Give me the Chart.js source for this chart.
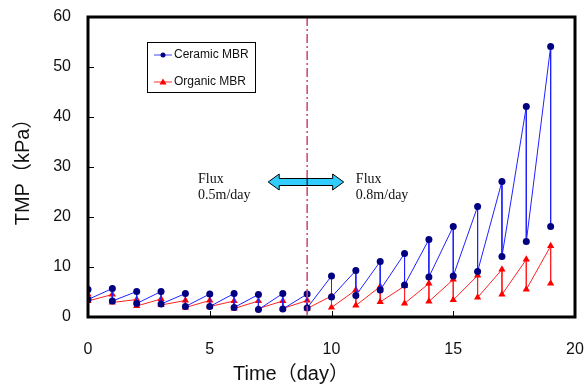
<!DOCTYPE html>
<html>
<head>
<meta charset="utf-8">
<script src="https://cdn.jsdelivr.net/npm/chart.js@4/dist/chart.umd.min.js"></script>
<style>
  html, body { margin: 0; padding: 0; background: #fff; }
  #wrap { width: 586px; height: 385px; }
</style>
</head>
<body>
<div id="wrap"><canvas id="grafico"></canvas></div>
<script>
// dados: valor antes (alto) e depois (baixo) da limpeza, por dia
const dias = [0, 1, 2, 3, 4, 5, 6, 7, 8, 9, 10, 11, 12, 13, 14, 15, 16, 17, 18, 19];
const ceramicAlto  = [5.5, 5.7, 5.1, 5.1, 4.7, 4.6, 4.7, 4.5, 4.7, 4.6, 8.2, 9.3, 11.1, 12.7, 15.5, 18.1, 22.1, 27.1, 42.1, 54.1];
const ceramicBaixo = [3.5, 3.2, 2.7, 2.6, 2.1, 2.1, 1.9, 1.5, 1.6, 1.8, 4.0, 4.3, 5.4, 6.4, 8.0, 8.2, 9.1, 12.1, 15.1, 18.1];
const organicAlto  = [4.5, 4.5, 3.5, 3.6, 3.3, 3.3, 3.2, 3.2, 3.2, 3.3, 4.2, 5.4, 6.1, 6.2, 6.7, 7.5, 8.3, 9.5, 11.5, 14.2];
const organicBaixo = [3.2, 2.9, 2.2, 2.4, 1.9, 2.1, 1.7, 1.7, 1.7, 1.7, 1.9, 2.3, 3.0, 2.7, 3.1, 3.4, 3.9, 4.5, 5.5, 6.7];
const xTicks = [0, 5, 10, 15, 20];
const yTicks = [0, 10, 20, 30, 40, 50, 60];
const diaMudanca = 9;

// serra: alto -> baixo no mesmo dia, depois sobe até o alto do dia seguinte
function serra(alto, baixo) {
    const pts = [];
    dias.forEach((d, i) => {
        pts.push({ x: d, y: alto[i] });
        pts.push({ x: d, y: baixo[i] });
    });
    return pts;
}

const fonteSans = 'Liberation Sans, Arial, "Noto Sans CJK JP", sans-serif';

// moldura, ticks internos, linha de mudança de fluxo, seta, legenda e título do eixo x
const extras = {
    id: 'extras',
    afterDraw(chart) {
        const { ctx, chartArea: a, scales: { x, y } } = chart;
        ctx.save();

        // linha traço-ponto em x = 9
        const xm = x.getPixelForValue(diaMudanca);
        ctx.strokeStyle = '#cc4470';
        ctx.lineWidth = 1.5;
        ctx.setLineDash([9, 3, 2, 3]);
        ctx.beginPath();
        ctx.moveTo(xm, a.top);
        ctx.lineTo(xm, a.bottom);
        ctx.stroke();
        ctx.setLineDash([]);

        // seta dupla
        const x1 = x.getPixelForValue(7.4), x2 = x.getPixelForValue(10.5);
        const yc = y.getPixelForValue(27);
        const hs = 3.5, hh = 8, hl = 11;
        ctx.beginPath();
        ctx.moveTo(x1, yc);
        ctx.lineTo(x1 + hl, yc - hh);
        ctx.lineTo(x1 + hl, yc - hs);
        ctx.lineTo(x2 - hl, yc - hs);
        ctx.lineTo(x2 - hl, yc - hh);
        ctx.lineTo(x2, yc);
        ctx.lineTo(x2 - hl, yc + hh);
        ctx.lineTo(x2 - hl, yc + hs);
        ctx.lineTo(x1 + hl, yc + hs);
        ctx.lineTo(x1 + hl, yc + hh);
        ctx.closePath();
        ctx.fillStyle = '#33ccff';
        ctx.fill();
        ctx.strokeStyle = '#000';
        ctx.lineWidth = 1;
        ctx.stroke();
        ctx.beginPath();
        ctx.moveTo(xm, yc - hs);
        ctx.lineTo(xm, yc + hs);
        ctx.stroke();

        // textos de fluxo
        ctx.fillStyle = '#111';
        ctx.font = '14px "Liberation Serif", "Times New Roman", serif';
        ctx.textAlign = 'left';
        ctx.textBaseline = 'middle';
        const tx1 = x.getPixelForValue(4.52), tx2 = x.getPixelForValue(11.0);
        const ty1 = y.getPixelForValue(27.6), ty2 = y.getPixelForValue(24.4);
        ctx.fillText('Flux', tx1, ty1);
        ctx.fillText('0.5m/day', tx1, ty2);
        ctx.fillText('Flux', tx2, ty1);
        ctx.fillText('0.8m/day', tx2, ty2);

        // legenda
        const lx = a.left + 59, ly = a.top + 25;
        ctx.strokeStyle = '#000';
        ctx.lineWidth = 1;
        ctx.strokeRect(lx + 0.5, ly + 0.5, 108, 50);
        const itens = [
            { txt: 'Ceramic MBR', cor: '#4444ff', ponto: '#000080', forma: 'circle' },
            { txt: 'Organic MBR', cor: '#ff3333', ponto: '#ff0000', forma: 'triangle' }
        ];
        ctx.font = '12px ' + fonteSans;
        itens.forEach((it, i) => {
            const yy = ly + 13 + i * 27;
            ctx.strokeStyle = it.cor;
            ctx.beginPath();
            ctx.moveTo(lx + 7, yy);
            ctx.lineTo(lx + 25, yy);
            ctx.stroke();
            ctx.fillStyle = it.ponto;
            ctx.beginPath();
            if (it.forma === 'circle') {
                ctx.arc(lx + 16, yy, 2.5, 0, Math.PI * 2);
            } else {
                ctx.moveTo(lx + 16, yy - 3.5);
                ctx.lineTo(lx + 19.5, yy + 2.5);
                ctx.lineTo(lx + 12.5, yy + 2.5);
                ctx.closePath();
            }
            ctx.fill();
            ctx.fillStyle = '#111';
            ctx.fillText(it.txt, lx + 27, yy);
        });

        // título do eixo x (no original fica deslocado para a esquerda)
        ctx.font = '20px ' + fonteSans;
        ctx.textAlign = 'center';
        ctx.fillText('Time（day）', a.left + 203, a.bottom + 57);

        // ticks internos
        ctx.strokeStyle = '#000';
        ctx.lineWidth = 1;
        yTicks.forEach(v => {
            const p = Math.round(y.getPixelForValue(v)) + 0.5;
            ctx.beginPath();
            ctx.moveTo(a.left, p);
            ctx.lineTo(a.left + 6, p);
            ctx.stroke();
        });
        xTicks.forEach(v => {
            const p = Math.round(x.getPixelForValue(v)) + 0.5;
            ctx.beginPath();
            ctx.moveTo(p, a.bottom);
            ctx.lineTo(p, a.bottom - 6);
            ctx.stroke();
        });

        // moldura
        ctx.lineWidth = 3;
        ctx.strokeRect(a.left, a.top, a.right - a.left, a.bottom - a.top);
        ctx.restore();
    }
};

new Chart(document.getElementById('grafico').getContext('2d'), {
    type: 'line',
    data: {
        datasets: [
            {
                label: 'Ceramic MBR',
                data: serra(ceramicAlto, ceramicBaixo),
                borderColor: '#2222ff',
                borderWidth: 1,
                pointStyle: 'circle',
                pointRadius: 3.5,
                pointBackgroundColor: '#000080',
                pointBorderColor: '#000080',
                pointBorderWidth: 0,
                tension: 0,
                fill: false
            },
            {
                label: 'Organic MBR',
                data: serra(organicAlto, organicBaixo),
                borderColor: '#ff2222',
                borderWidth: 1,
                pointStyle: 'triangle',
                pointRadius: 4.2,
                pointBackgroundColor: '#ff0000',
                pointBorderColor: '#ff0000',
                pointBorderWidth: 0,
                tension: 0,
                fill: false
            }
        ]
    },
    options: {
        responsive: true,
        maintainAspectRatio: false,
        animation: false,
        layout: { padding: { top: 17, right: 11, left: 0, bottom: 0 } },
        plugins: {
            legend: { display: false },
            tooltip: { enabled: false }
        },
        scales: {
            x: {
                type: 'linear',
                min: 0,
                max: 20,
                afterFit: (s) => {
                    s.height = 68;
                    s.paddingLeft = 0;
                    s.paddingRight = 0;
                },
                afterBuildTicks: (s) => { s.ticks = xTicks.map(v => ({ value: v })); },
                grid: { display: false, drawTicks: false },
                border: { display: false },
                ticks: {
                    color: '#111',
                    padding: 23,
                    maxRotation: 0,
                    font: { family: fonteSans, size: 16 }
                }
            },
            y: {
                type: 'linear',
                min: 0,
                max: 60,
                afterFit: (s) => {
                    s.width = 88;
                    s.paddingTop = 0;
                    s.paddingBottom = 0;
                },
                afterBuildTicks: (s) => { s.ticks = yTicks.map(v => ({ value: v })); },
                grid: { display: false, drawTicks: false },
                border: { display: false },
                ticks: {
                    color: '#111',
                    padding: 17,
                    font: { family: fonteSans, size: 16 }
                },
                title: {
                    display: true,
                    text: 'TMP（kPa）',
                    color: '#111',
                    padding: { top: 11, bottom: 0 },
                    font: { family: fonteSans, size: 20 }
                }
            }
        }
    },
    plugins: [extras]
});
</script>
</body>
</html>
